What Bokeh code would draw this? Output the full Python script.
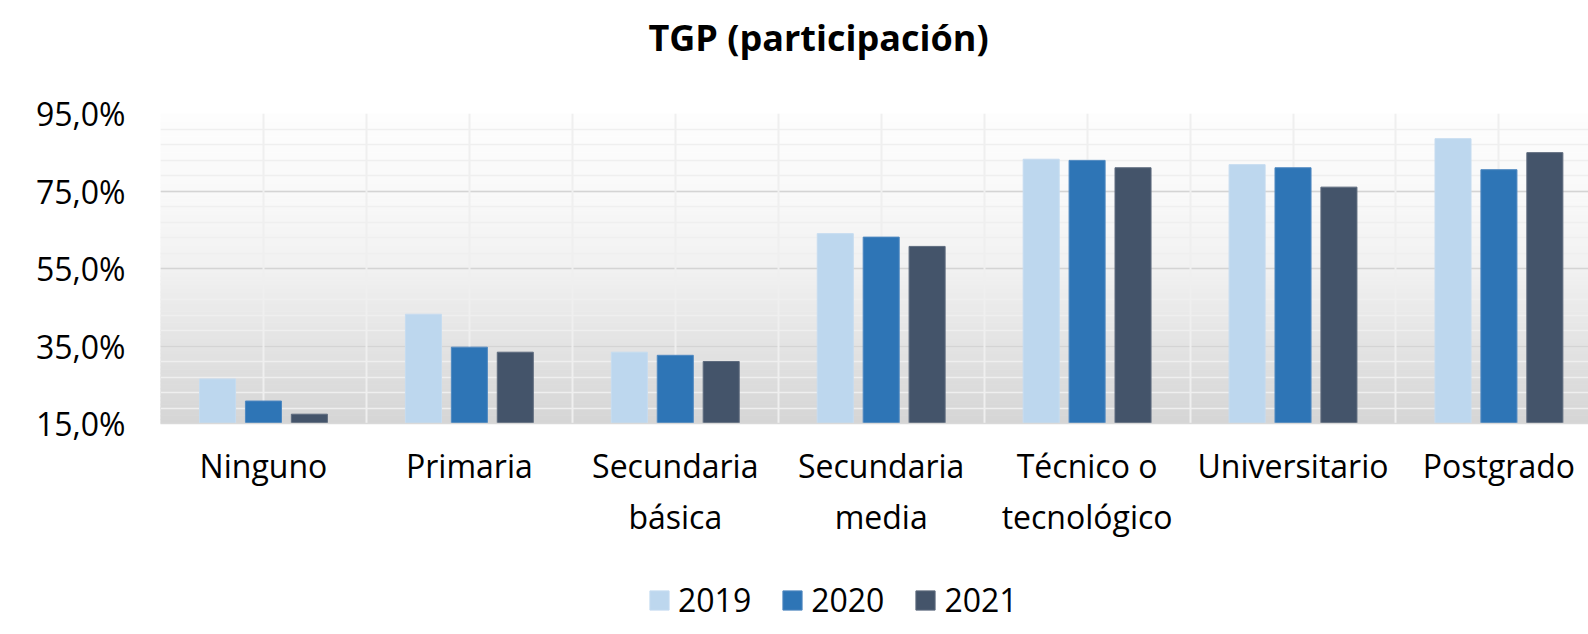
from bokeh.plotting import figure
from bokeh.layouts import column
from bokeh.models import (Range1d, FixedTicker, Grid, Legend, LegendItem, Label,
                          ColumnDataSource)
from bokeh.transform import dodge
from bokeh.embed import file_html
from bokeh.resources import INLINE
import numpy as np

# ---------------- data ----------------
categories = ["Ninguno", "Primaria", "Secundaria\nbásica", "Secundaria\nmedia",
              "Técnico o\ntecnológico", "Universitario", "Postgrado"]
series_names = ["2019", "2020", "2021"]
tgp_2019 = [26.5, 43.2, 33.4, 64.0, 83.2, 81.8, 88.5]
tgp_2020 = [20.8, 34.7, 32.6, 63.1, 82.9, 81.0, 80.5]
tgp_2021 = [17.4, 33.4, 31.0, 60.7, 81.0, 76.0, 84.9]
y_ticks = [15, 35, 55, 75, 95]
y_tick_labels = ["15,0%", "35,0%", "55,0%", "75,0%", "95,0%"]
title_text = "TGP (participación)"

colors = ["#BDD7EE", "#2E75B6", "#44546A"]
outlines = ["#C6DCF0", "#4F88C0", "#5E6B7E"]
FONT = "Open Sans"

# ---------------- title strip ----------------
TITLE_H = 80
tf = figure(width=1588, height=TITLE_H, output_backend="svg", toolbar_location=None,
            x_range=Range1d(160, 1588), y_range=Range1d(0, TITLE_H),
            x_axis_type=None, y_axis_type=None, min_border=0)
tf.outline_line_color = None
tf.grid.visible = False
tf.add_layout(Label(x=818, y=TITLE_H - 37, text=title_text, text_align="center",
                    text_baseline="alphabetic", text_font=FONT, text_font_size="36px",
                    text_font_style="bold", text_color="#000000"))

# ---------------- main figure ----------------
y_min, y_max = y_ticks[0], y_ticks[-1]
x_end = 6.935
p = figure(width=1588, height=480, output_backend="svg", toolbar_location=None,
           x_range=Range1d(0, x_end), y_range=Range1d(y_min, y_max),
           min_border_left=160, min_border_right=0, min_border_top=113 - TITLE_H,
           min_border_bottom=137)
p.outline_line_color = None
p.background_fill_color = "white"
p.border_fill_color = "white"

# gradient background (decorative)
stops_v = [15, 35, 55, 75, 95]
stops_g = [213, 227, 241, 249, 253]
edges = np.linspace(y_min, y_max, 81)
mids = (edges[:-1] + edges[1:]) / 2
grays = np.interp(mids, stops_v, stops_g).round().astype(int)
grad_colors = ["#%02x%02x%02x" % (g, g, g) for g in grays]
p.quad(left=0, right=x_end, bottom=edges[:-1], top=edges[1:], fill_color=grad_colors,
       line_color=grad_colors, line_width=1, level="image")

# grids
p.xgrid.visible = False
p.ygrid.ticker = FixedTicker(ticks=y_ticks, minor_ticks=list(range(y_min, y_max + 1, 4)))
p.ygrid.grid_line_color = "#D4D4D4"
p.ygrid.grid_line_width = 1.5
p.ygrid.minor_grid_line_color = "#EFEFEF"
p.ygrid.minor_grid_line_width = 1.5
vgrid = Grid(dimension=0, ticker=FixedTicker(ticks=[i * 0.5 for i in range(0, 15)]),
             grid_line_color="#EFEFEF", grid_line_width=2)
p.add_layout(vgrid)

# bars
n = len(categories)
src = ColumnDataSource(dict(x=[i + 0.5 for i in range(n)],
                            s2019=tgp_2019, s2020=tgp_2020, s2021=tgp_2021))
offsets = [-0.223, 0.0, 0.223]
fields = ["s2019", "s2020", "s2021"]
for f, off, c, oc in zip(fields, offsets, colors, outlines):
    p.vbar(x=dodge("x", off), top=f, bottom=y_min, width=0.175, source=src,
           fill_color=c, line_color=oc, line_width=1)

# axes
p.xaxis.ticker = FixedTicker(ticks=[i + 0.5 for i in range(n)])
p.xaxis.major_label_overrides = {i + 0.5: categories[i] for i in range(n)}
p.xaxis.major_tick_out = 0
p.xaxis.major_tick_in = 0
p.xaxis.minor_tick_out = 0
p.xaxis.minor_tick_in = 0
p.xaxis.axis_line_color = "#D9D9D9"
p.xaxis.axis_line_width = 1.5
p.xaxis.major_label_standoff = 20
p.xaxis.major_label_text_font = FONT
p.xaxis.major_label_text_font_size = "32px"
p.xaxis.major_label_text_color = "#000000"

p.yaxis.ticker = FixedTicker(ticks=y_ticks, minor_ticks=[])
p.yaxis.major_label_overrides = {t: l for t, l in zip(y_ticks, y_tick_labels)}
p.yaxis.major_tick_out = 0
p.yaxis.major_tick_in = 0
p.yaxis.minor_tick_out = 0
p.yaxis.minor_tick_in = 0
p.yaxis.axis_line_color = None
p.yaxis.major_label_standoff = 35
p.yaxis.major_label_text_font = FONT
p.yaxis.major_label_text_font_size = "32px"
p.yaxis.major_label_text_color = "#000000"

# ---------------- legend strip ----------------
lg = figure(width=1588, height=66, output_backend="svg", toolbar_location=None,
            x_range=Range1d(0, 1), y_range=Range1d(0, 1),
            x_axis_type=None, y_axis_type=None, min_border=0)
lg.outline_line_color = None
lg.grid.visible = False
lg.title.visible = False
items = []
for s, c, oc in zip(series_names, colors, outlines):
    # a single key entry placed outside the visible range: only the legend key shows
    key_src = ColumnDataSource(dict(x=[5.0], top=[5.0]))
    r = lg.vbar(x="x", top="top", bottom=4.0, width=0.1, source=key_src,
                fill_color=c, line_color=oc)
    items.append(LegendItem(label=s, renderers=[r]))
legend = Legend(items=items, location=(487, 5), orientation="horizontal",
                glyph_width=24, glyph_height=24, label_standoff=7, spacing=29,
                padding=0, margin=0, border_line_color=None, background_fill_alpha=0,
                label_text_font=FONT, label_text_font_size="32px",
                label_text_color="#000000")
lg.add_layout(legend)

layout = column(tf, p, lg, spacing=0)
open("out.html", "w").write(file_html(layout, INLINE))
